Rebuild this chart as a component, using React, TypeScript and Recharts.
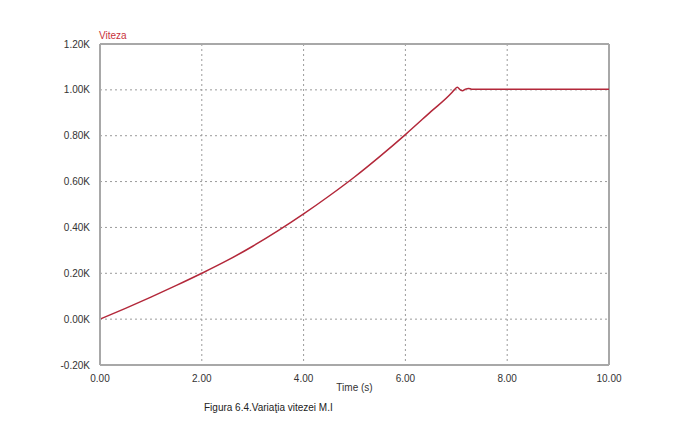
import { CartesianGrid, Line, LineChart, ReferenceLine, XAxis, YAxis } from "recharts"

// time (s) and speed (K)
const timeValues = [0, 0.5, 1, 1.5, 2, 2.5, 3, 3.5, 4, 4.5, 5, 5.5, 6, 6.5, 6.9, 6.96, 7.02, 7.08, 7.12, 7.18, 7.24, 7.3, 8, 9, 10]
const speedValues = [0, 0.047, 0.096, 0.147, 0.2, 0.256, 0.318, 0.386, 0.459, 0.537, 0.62, 0.71, 0.805, 0.905, 0.985, 1.0, 1.011, 1.0, 0.996, 1.003, 1.006, 1.003, 1.003, 1.003, 1.003]

const xTicks = [0, 2, 4, 6, 8, 10]
const yTicks = [-0.2, 0, 0.2, 0.4, 0.6, 0.8, 1.0, 1.2]

const seriesName = "Viteza"
const xLabel = "Time (s)"
const caption = "Figura 6.4.Variaţia vitezei M.I"

const data = timeValues.map((t, i) => ({ t, v: speedValues[i] }))

const font = "'Liberation Sans', Arial, sans-serif"
const axisColor = "#a8a8a8"
const lineColor = "#b3283a"

export default function App() {
  return (
    <div style={{ position: "absolute", left: 0, top: 0, width: 696, height: 438, background: "#fff", fontFamily: font }}>
      <div style={{ position: "absolute", left: 99, top: 30, fontSize: 10, color: "#c8323c" }}>{seriesName}</div>
      <LineChart width={696} height={438} data={data} margin={{ top: 44, right: 87, bottom: 43, left: 40 }}>
        <CartesianGrid stroke="#9a9a9a" strokeDasharray="2 3" />
        <XAxis
          dataKey="t"
          type="number"
          domain={[0, 10]}
          ticks={xTicks}
          tickFormatter={(v: number) => v.toFixed(2)}
          stroke={axisColor}
          strokeWidth={2}
          tickLine={false}
          tickMargin={4}
          height={30}
          tick={{ fill: "#333", fontSize: 10, fontFamily: font }}
          label={{ value: xLabel, position: "insideBottom", offset: 4, fill: "#333", fontSize: 10, fontFamily: font }}
        />
        <YAxis
          type="number"
          domain={[-0.2, 1.2]}
          ticks={yTicks}
          tickFormatter={(v: number) => v.toFixed(2) + "K"}
          stroke={axisColor}
          strokeWidth={2}
          tickLine={false}
          tickMargin={4}
          width={60}
          tick={{ fill: "#333", fontSize: 10, fontFamily: font }}
        />
        <ReferenceLine y={1.2} stroke={axisColor} strokeWidth={2} />
        <ReferenceLine x={10} stroke={axisColor} strokeWidth={2} />
        <Line type="monotone" dataKey="v" stroke={lineColor} strokeWidth={1.5} dot={false} isAnimationActive={false} />
      </LineChart>
      <div style={{ position: "absolute", left: 204, top: 402, fontSize: 10, color: "#222" }}>{caption}</div>
    </div>
  )
}
